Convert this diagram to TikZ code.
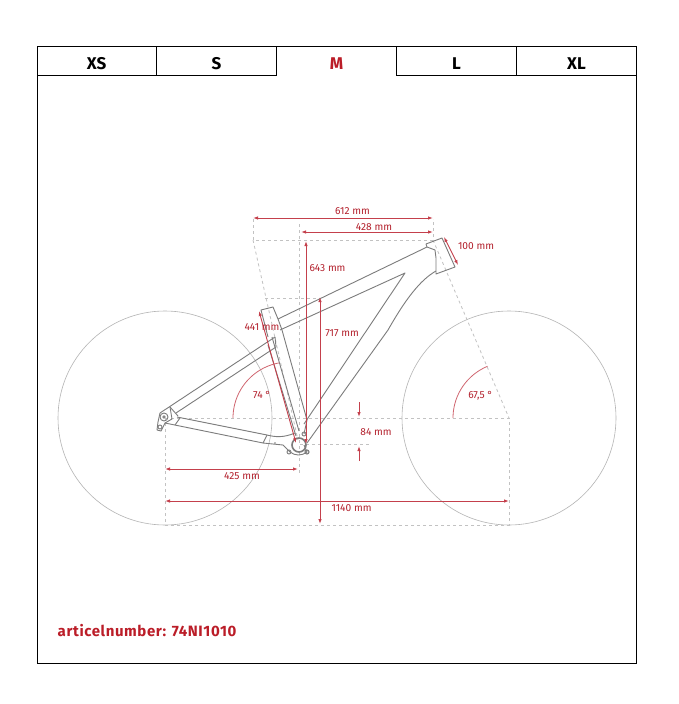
\documentclass[tikz,border=0pt]{standalone}
\usepackage{fontspec}
\setmainfont{Fira Sans}
\usetikzlibrary{arrows.meta}
\definecolor{dimred}{HTML}{B3202C}
\definecolor{dimline}{HTML}{C4404C}
\definecolor{framegrey}{HTML}{7C7C7C}
\definecolor{dashgrey}{HTML}{C2C2C2}
\definecolor{wheelgrey}{HTML}{B4B4B4}
\tikzset{
  tabtext/.style={font=\fontsize{17}{19}\selectfont\bfseries,inner sep=0pt,text=black},
  dimtext/.style={font=\fontsize{10.2}{12}\selectfont,inner sep=0pt,text=dimred,fill=none},
  dimdouble/.style={draw=dimline,line width=0.9pt,{Latex[length=5pt,width=3.5pt]}-{Latex[length=5pt,width=3.5pt]}},
  dimsingle/.style={draw=dimline,line width=0.9pt,-{Latex[length=5pt,width=3.5pt]}},
  guide/.style={draw=dashgrey,line width=0.8pt,dash pattern=on 3pt off 3pt},
  wheel/.style={draw=wheelgrey,line width=0.6pt},
  frameline/.style={draw=framegrey,line width=0.9pt,line join=round},
  border/.style={draw=black,line width=0.8pt},
  anglearc/.style={draw=dimline!80,line width=0.8pt}
}
\begin{document}
\begin{tikzpicture}[x=1pt,y=-1pt]
\useasboundingbox (0,0) rectangle (679,704);
\fill[white] (0,0) rectangle (679,704);
% outer box and tabs
\draw[border] (37.5,46.5) rectangle (636.5,663.5);
\draw[border] (37.5,75.5) -- (276.5,75.5) -- (276.5,46.5);
\draw[border] (396.5,46.5) -- (396.5,75.5) -- (636.5,75.5);
\draw[border] (156.5,46.5) -- (156.5,75.5);
\draw[border] (516.5,46.5) -- (516.5,75.5);
\node[tabtext] (xs) at (96.5,63.5) {XS};
\node[tabtext] (s) at (216.5,63.5) {S};
\node[tabtext,text=dimred!90!red] (m) at (336.5,63.5) {M};
\node[tabtext] (l) at (456.5,63.5) {L};
\node[tabtext] (xl) at (576.5,63.5) {XL};
% wheels
\draw[wheel] (165,418) circle[radius=107pt];
\draw[wheel] (509,418) circle[radius=107pt];
% guides
\coordinate (ra) at (165,418);
\coordinate (fa) at (509,418);
\coordinate (rg) at (165,525);
\coordinate (fg) at (509,525);
\coordinate (stack) at (433,240);
\draw[guide] (ra) -- (fa) -- (fg) -- (rg) -- (ra);
\draw[guide] (253,219) -- (253,240) -- (stack) -- (433,219);
\draw[guide] (253,240) -- (298,440);
\draw[guide] (299,224) -- (299,473);
\draw[guide] (265,298) -- (321,298);
\draw[guide] (300,444) -- (371,444);
\draw[guide] (stack) -- (fa);
% frame
\draw[frameline] (427,247) -- (426,244) -- (442,238) -- (455,267) -- (436,274) -- (436,258) -- (435,250) -- (427,247) -- (278,319);
\draw[frameline] (280,330) -- (405,273) -- (304,424);
\draw[frameline] (436,271) .. controls (420,280) and (405,300) .. (388,330) -- (307,443);
\draw[frameline] (278,319) -- (273,307) -- (261,310) -- (268,337);
\draw[frameline] (278,319) -- (282,330) -- (307,420) -- (304,434);
\draw[frameline] (272,337) -- (299,431);
\draw[frameline] (268,345) -- (296,436);
\draw[frameline] (275,337) -- (160,413);
\draw[frameline] (276,347) -- (176,413);
\draw[frameline] (275,337) -- (276,347);
\draw[frameline] (170,407) -- (178,416);
\draw[frameline] (177,417) -- (267,435) .. controls (275,437) and (283,438) .. (295,433);
\draw[frameline] (165,423) -- (263,443) -- (283,445) -- (290,452) .. controls (295,456) and (302,456) .. (307,452) -- (304,445);
\draw[frameline] (267,435) -- (263,443);
\draw[frameline] (180,418) -- (175,425);
\draw[frameline] (160,413) -- (158,422) -- (157,430) -- (161,431) -- (165,423) -- (172,419) -- (170,407);
\draw[frameline] (164,417) circle[radius=4pt];
\draw[frameline] (164,417) circle[radius=1.3pt];
\draw[frameline] (160,427) circle[radius=2pt];
\draw[framegrey,line width=1.6pt] (299,445) circle[radius=7pt];
\draw[frameline] (304,434) circle[radius=2pt];
\draw[frameline] (289,452) circle[radius=2pt];
\draw[frameline,line width=1.1pt] (307,452) circle[radius=2pt];
\fill[framegrey] (275,443) circle[radius=0.9pt];
% dimension ends
\coordinate (d612a) at (253,218); \coordinate (d612b) at (433,218);
\coordinate (d428a) at (301,232); \coordinate (d428b) at (433,232);
\coordinate (d643a) at (306,241); \coordinate (d643b) at (306,444);
\coordinate (d717a) at (320,297); \coordinate (d717b) at (320,524);
\coordinate (d441a) at (259,311); \coordinate (d441b) at (296,443);
\coordinate (d425a) at (165,469); \coordinate (d425b) at (298,469);
\coordinate (d1140a) at (165,501); \coordinate (d1140b) at (509,501);
\coordinate (d100a) at (444,237); \coordinate (d100b) at (458,265);
\coordinate (d84a) at (359,402); \coordinate (d84b) at (359,417);
\coordinate (d84c) at (359,461); \coordinate (d84d) at (359,446);
% dimensions
\draw[dimdouble] (d612a) -- (d612b);
\draw[dimdouble] (d428a) -- (d428b);
\draw[dimdouble] (d643a) -- (d643b);
\draw[dimdouble] (d717a) -- (d717b);
\draw[dimdouble] (d441a) -- (d441b);
\draw[dimdouble] (d425a) -- (d425b);
\draw[dimdouble] (d1140a) -- (d1140b);
\draw[dimdouble] (d100a) -- (d100b);
\draw[dimsingle] (d84a) -- (d84b);
\draw[dimsingle] (d84c) -- (d84d);
\draw[anglearc] plot[domain=180:100,samples=30,smooth] ({289+56*cos(\x)},{418-56*sin(\x)});
\draw[anglearc] plot[domain=180:112.5,samples=30,smooth] ({509+56*cos(\x)},{418-56*sin(\x)});
% labels
\node[dimtext] (t612) at (352.5,211) {612 mm};
\node[dimtext] (t428) at (374,227) {428 mm};
\node[dimtext] (t100) at (476,246.5) {100 mm};
\node[dimtext] (t643) at (327.5,268.5) {643 mm};
\node[dimtext] (t441) at (262,327) {441 mm};
\node[dimtext] (t717) at (342,333) {717 mm};
\node[dimtext] (t74) at (262,394.5) {74 °};
\node[dimtext] (t675) at (480.5,395.5) {67,5 °};
\node[dimtext] (t84) at (376,432) {84 mm};
\node[dimtext] (t425) at (242,476) {425 mm};
\node[dimtext] (t1140) at (351.5,508.5) {1140 mm};
\node[font=\fontsize{15}{17}\selectfont\bfseries\addfontfeature{LetterSpace=4},text=dimred!90!red,inner sep=0pt,anchor=west] (art) at (57.5,631) {articelnumber: 74NI1010};
\end{tikzpicture}
\end{document}
